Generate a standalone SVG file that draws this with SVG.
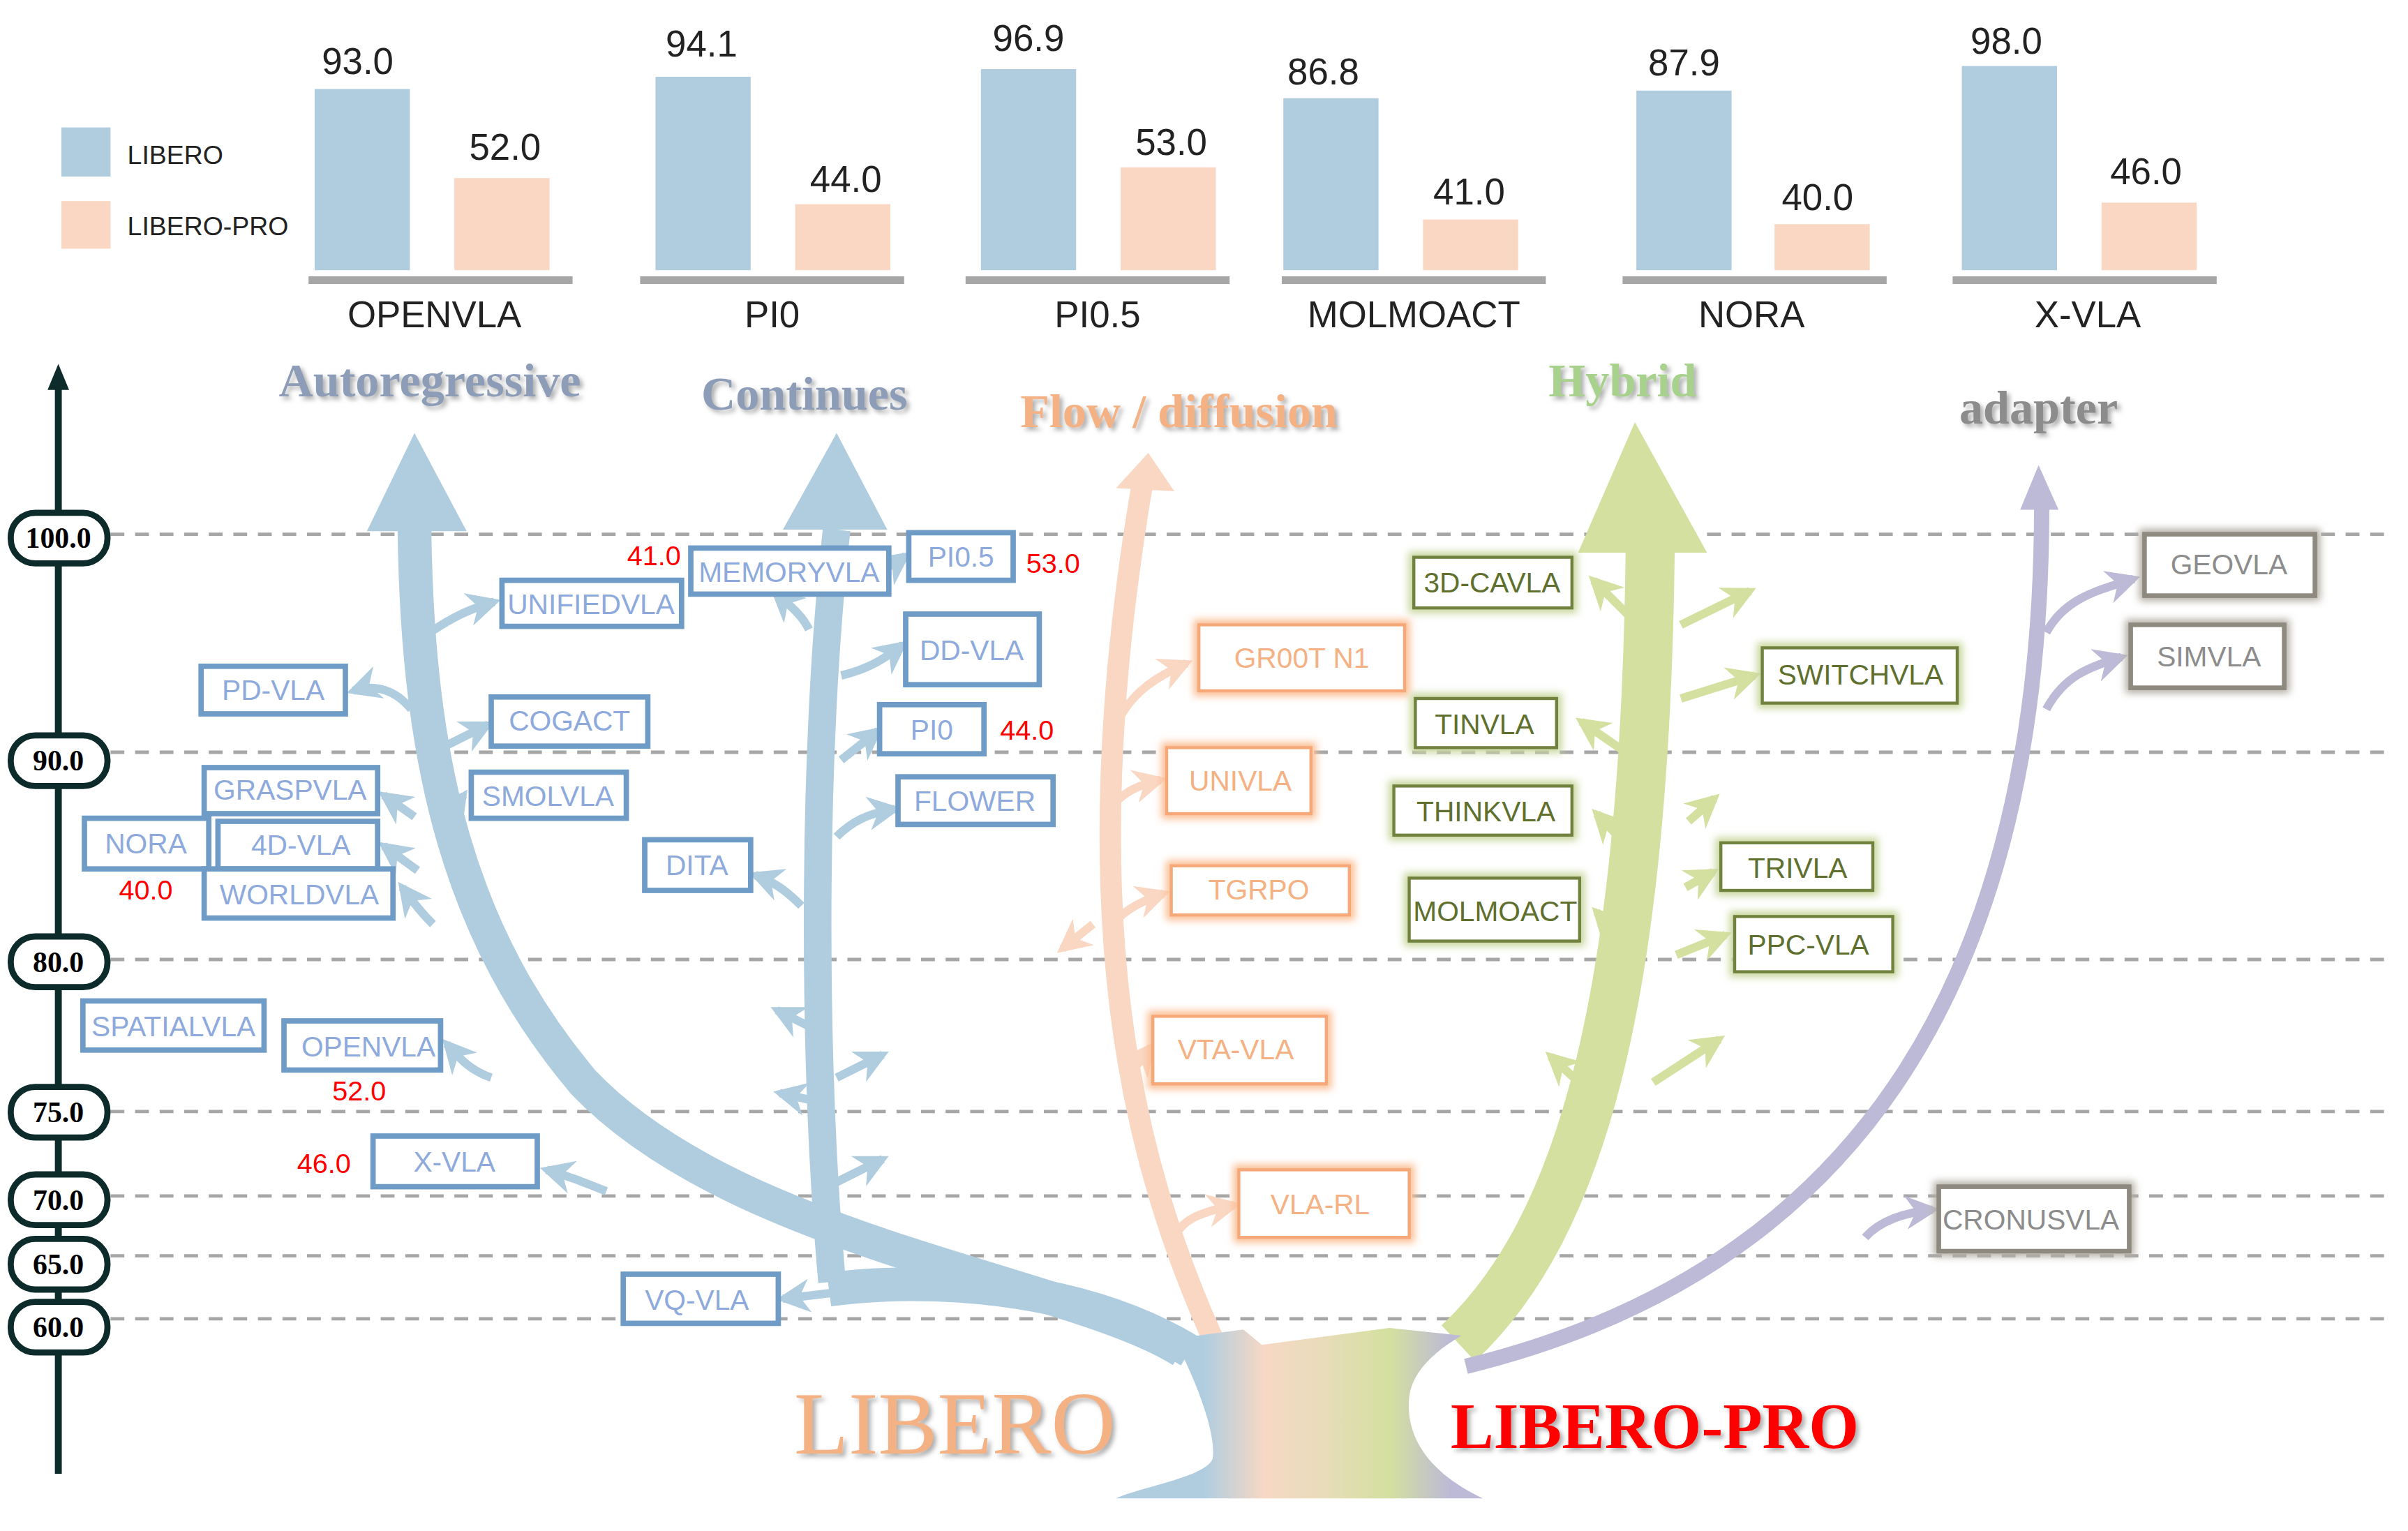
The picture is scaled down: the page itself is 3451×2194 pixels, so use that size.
<svg xmlns="http://www.w3.org/2000/svg" width="3451" height="2194" viewBox="0 0 3451 2194">
<style>
.num{font-family:"Liberation Sans",Arial,sans-serif;font-size:24px;fill:#222;text-anchor:middle}
.cat{font-family:"Liberation Sans",Arial,sans-serif;font-size:24px;fill:#222;text-anchor:middle}
.leg{font-family:"Liberation Sans",Arial,sans-serif;font-size:17px;fill:#222}
.title{font-family:"Liberation Serif","Times New Roman",serif;font-size:31px;font-weight:bold;text-anchor:middle}
.pill{fill:#fff;stroke:#0d2b2b;stroke-width:4}
.pt{font-family:"Liberation Serif","Times New Roman",serif;font-size:19px;font-weight:bold;fill:#000;text-anchor:middle}
.grid{stroke:#a6a6a6;stroke-width:2.2;stroke-dasharray:9 7;fill:none}
.red{font-family:"Liberation Sans",Arial,sans-serif;font-size:18px;fill:#ff0000;text-anchor:middle}
.nt{font-family:"Liberation Sans",Arial,sans-serif;font-size:18.5px;text-anchor:middle}
.bb{fill:#fff;stroke:#6f9cc6;stroke-width:3.5}
.bt{fill:#8eaadc}
.ob{fill:#fff;stroke:#f6a878;stroke-width:2}
.oglow{fill:none;stroke:#fbbf95;stroke-width:7}
.ot{fill:#f4b183}
.gb{fill:#fff;stroke:#71823f;stroke-width:2}
.gglow{fill:none;stroke:#c9d79e;stroke-width:7}
.gt{fill:#5f6f2e}
.ab{fill:#fff;stroke:#8f8a80;stroke-width:3}
.aglow{fill:none;stroke:#b3aea4;stroke-width:7}
.at{fill:#8c8c8c}
.sb{fill:none;stroke:#b0cde0;stroke-width:5.5}
.so{fill:none;stroke:#fad7c3;stroke-width:5.5}
.sg{fill:none;stroke:#d3e09f;stroke-width:5.5}
.sp{fill:none;stroke:#bcbad6;stroke-width:5.5}
</style>
<defs>
<filter id="blur" x="-20%" y="-40%" width="140%" height="180%"><feGaussianBlur stdDeviation="2.5"/></filter>
<filter id="shadow" x="-10%" y="-20%" width="120%" height="150%"><feDropShadow dx="2" dy="2" stdDeviation="1.5" flood-color="#777" flood-opacity="0.6"/></filter>
<marker id="mb" viewBox="0 0 10 10" refX="8" refY="5" markerWidth="4" markerHeight="4" orient="auto"><path d="M0,0 L10,5 L0,10 L3,5 Z" fill="#b0cde0"/></marker>
<marker id="mo" viewBox="0 0 10 10" refX="8" refY="5" markerWidth="4" markerHeight="4" orient="auto"><path d="M0,0 L10,5 L0,10 L3,5 Z" fill="#fad7c3"/></marker>
<marker id="mg" viewBox="0 0 10 10" refX="8" refY="5" markerWidth="4" markerHeight="4" orient="auto"><path d="M0,0 L10,5 L0,10 L3,5 Z" fill="#d3e09f"/></marker>
<marker id="mp" viewBox="0 0 10 10" refX="8" refY="5" markerWidth="4" markerHeight="4" orient="auto"><path d="M0,0 L10,5 L0,10 L3,5 Z" fill="#bcbad6"/></marker>
<linearGradient id="trunk" x1="765" y1="0" x2="960" y2="0" gradientUnits="userSpaceOnUse">
<stop offset="0.1" stop-color="#b0cde0"/><stop offset="0.3" stop-color="#f6d8c4"/><stop offset="0.5" stop-color="#e8dcb9"/><stop offset="0.72" stop-color="#d3e09f"/><stop offset="0.92" stop-color="#bcbad6"/>
</linearGradient>
</defs>
<rect width="3451" height="2194" fill="#fff"/>
<g transform="scale(2.2)">
<g id="chart">
<rect x="40" y="83" width="32" height="32" fill="#b0cde0"/><rect x="40" y="131" width="32" height="31" fill="#fad7c3"/>
<text class="leg" x="83" y="107">LIBERO</text><text class="leg" x="83" y="153">LIBERO-PRO</text>
<g fill="#a6a6a6"><rect x="201" y="180" width="172" height="5"/><rect x="417" y="180" width="172" height="5"/><rect x="629" y="180" width="172" height="5"/><rect x="835" y="180" width="172" height="5"/><rect x="1057" y="180" width="172" height="5"/><rect x="1272" y="180" width="172" height="5"/></g>
<g fill="#b0cde0"><rect x="205" y="58" width="62" height="118"/><rect x="427" y="50" width="62" height="126"/><rect x="639" y="45" width="62" height="131"/><rect x="836" y="64" width="62" height="112"/><rect x="1066" y="59" width="62" height="117"/><rect x="1278" y="43" width="62" height="133"/></g>
<g fill="#fad7c3"><rect x="296" y="116" width="62" height="60"/><rect x="518" y="133" width="62" height="43"/><rect x="730" y="109" width="62" height="67"/><rect x="927" y="143" width="62" height="33"/><rect x="1156" y="146" width="62" height="30"/><rect x="1369" y="132" width="62" height="44"/></g>
<text class="num" x="233" y="48">93.0</text><text class="num" x="329" y="104">52.0</text>
<text class="num" x="457" y="37">94.1</text><text class="num" x="551" y="125">44.0</text>
<text class="num" x="670" y="33">96.9</text><text class="num" x="763" y="101">53.0</text>
<text class="num" x="862" y="55">86.8</text><text class="num" x="957" y="133">41.0</text>
<text class="num" x="1097" y="49">87.9</text><text class="num" x="1184" y="137">40.0</text>
<text class="num" x="1307" y="35">98.0</text><text class="num" x="1398" y="120">46.0</text>
<text class="cat" x="283" y="213">OPENVLA</text><text class="cat" x="503" y="213">PI0</text><text class="cat" x="715" y="213">PI0.5</text><text class="cat" x="921" y="213">MOLMOACT</text><text class="cat" x="1141" y="213">NORA</text><text class="cat" x="1360" y="213">X-VLA</text>
</g>
<g id="grid">
<line class="grid" x1="72" y1="348" x2="1560" y2="348"/><line class="grid" x1="72" y1="490" x2="1560" y2="490"/><line class="grid" x1="72" y1="625" x2="1560" y2="625"/><line class="grid" x1="72" y1="724" x2="1560" y2="724"/><line class="grid" x1="72" y1="779" x2="1560" y2="779"/><line class="grid" x1="72" y1="818" x2="1560" y2="818"/><line class="grid" x1="72" y1="859" x2="1560" y2="859"/>
</g>
<g id="axis">
<line x1="38" y1="250" x2="38" y2="960" stroke="#0d2b2b" stroke-width="4.5"/>
<path d="M38,237 L31,254 L45,254 Z" fill="#0d2b2b"/>
<rect class="pill" x="7" y="334" width="63" height="33" rx="16"/><text class="pt" x="38" y="357">100.0</text>
<rect class="pill" x="7" y="479" width="63" height="33" rx="16"/><text class="pt" x="38" y="502">90.0</text>
<rect class="pill" x="7" y="610" width="63" height="33" rx="16"/><text class="pt" x="38" y="633">80.0</text>
<rect class="pill" x="7" y="708" width="63" height="33" rx="16"/><text class="pt" x="38" y="731">75.0</text>
<rect class="pill" x="7" y="765" width="63" height="33" rx="16"/><text class="pt" x="38" y="788">70.0</text>
<rect class="pill" x="7" y="807" width="63" height="33" rx="16"/><text class="pt" x="38" y="830">65.0</text>
<rect class="pill" x="7" y="848" width="63" height="33" rx="16"/><text class="pt" x="38" y="871">60.0</text>
</g>
<g id="titles" filter="url(#shadow)">
<text class="title" x="280" y="258" fill="#8d9db8">Autoregressive</text>
<text class="title" x="524" y="267" fill="#8d9db8">Continues</text>
<text class="title" x="768" y="278" fill="#f4b183">Flow / diffusion</text>
<text class="title" x="1057" y="258" fill="#a9d18e">Hybrid</text>
<text class="title" x="1328" y="276" fill="#8c8c8c">adapter</text>
</g>
<g id="connectors">
<path d="M770,880 C700,835 480,810 380,705 C300,610 272,500 270,345" fill="none" stroke="#b0cde0" stroke-width="22"/>
<path d="M239,346 L270,282 L304,346 Z" fill="#b0cde0"/>
<path d="M542,835 C530,700 528,500 545,345" fill="none" stroke="#b0cde0" stroke-width="18"/>
<path d="M510,345 L545,282 L578,345 Z" fill="#b0cde0"/>
<path d="M775,880 C700,835 600,832 540,840" fill="none" stroke="#b0cde0" stroke-width="22"/>
<path d="M790,872 C740,760 695,600 745,310" fill="none" stroke="#fad7c3" stroke-width="14"/>
<path d="M727,318 L748,295 L765,320 Z" fill="#fad7c3"/>
<path d="M950,875 C1030,800 1072,650 1075,355" fill="none" stroke="#d3e09f" stroke-width="32"/>
<path d="M1028,360 L1065,275 L1112,360 Z" fill="#d3e09f"/>
<path d="M955,890 C1200,830 1330,650 1330,330" fill="none" stroke="#bcbad6" stroke-width="10"/>
<path d="M1316,332 L1328,303 L1341,332 Z" fill="#bcbad6"/>
<g marker-end="url(#mb)">
<path class="sb" d="M280,412 C295,402 305,397 322,392"/>
<path class="sb" d="M268,462 C258,450 245,445 230,450"/>
<path class="sb" d="M282,490 L318,472"/>
<path class="sb" d="M270,532 L250,518"/>
<path class="sb" d="M287,540 L302,518"/>
<path class="sb" d="M272,567 L250,551"/>
<path class="sb" d="M282,602 C272,592 268,586 262,578"/>
<path class="sb" d="M320,702 C306,697 300,690 291,680"/>
<path class="sb" d="M395,776 C380,770 370,766 356,762"/>
<path class="sb" d="M527,410 C522,400 515,395 505,386"/>
<path class="sb" d="M545,382 C560,379 575,373 590,362"/>
<path class="sb" d="M548,440 C565,436 575,430 588,420"/>
<path class="sb" d="M548,495 L572,476"/>
<path class="sb" d="M545,545 C555,535 565,530 583,527"/>
<path class="sb" d="M522,590 C512,580 505,575 492,570"/>
<path class="sb" d="M526,668 L506,658"/>
<path class="sb" d="M545,702 L575,687"/>
<path class="sb" d="M530,717 L508,712"/>
<path class="sb" d="M545,770 L575,755"/>
<path class="sb" d="M560,840 L510,846"/>
</g>
<g marker-end="url(#mo)">
<path class="so" d="M728,470 C738,450 755,440 773,432"/>
<path class="so" d="M724,525 C734,515 740,512 756,508"/>
<path class="so" d="M722,605 C730,595 740,588 758,582"/>
<path class="so" d="M712,602 L692,618"/>
<path class="so" d="M738,697 L750,682"/>
<path class="so" d="M765,806 C770,795 780,790 804,785"/>
</g>
<g marker-end="url(#mg)">
<path class="sg" d="M1060,400 L1038,378"/>
<path class="sg" d="M1095,407 L1140,385"/>
<path class="sg" d="M1095,455 L1143,440"/>
<path class="sg" d="M1062,492 L1030,470"/>
<path class="sg" d="M1100,535 L1117,520"/>
<path class="sg" d="M1062,553 L1040,530"/>
<path class="sg" d="M1098,578 L1116,568"/>
<path class="sg" d="M1057,612 L1040,594"/>
<path class="sg" d="M1092,622 L1124,609"/>
<path class="sg" d="M1045,720 L1010,688"/>
<path class="sg" d="M1077,705 L1120,677"/>
</g>
<g marker-end="url(#mp)">
<path class="sp" d="M1333,412 C1345,390 1365,385 1390,377"/>
<path class="sp" d="M1333,462 C1345,440 1360,435 1382,428"/>
<path class="sp" d="M1215,806 C1225,795 1240,790 1259,788"/>
</g>
</g>
<g id="trunk">
<path d="M765,872 C782,905 792,935 790,950 C786,962 745,968 727,976 L966,976 C936,962 915,940 918,910 C920,893 935,880 952,870 L905,865 L822,876 L810,866 Z" fill="url(#trunk)"/>
</g>
<g id="labels" filter="url(#shadow)">
<text x="622" y="947" font-family="'Liberation Serif','Times New Roman',serif" font-size="58" fill="#f4b183" text-anchor="middle">LIBERO</text>
<text x="1078" y="943" font-family="'Liberation Serif','Times New Roman',serif" font-size="42" font-weight="bold" fill="#ff0000" text-anchor="middle">LIBERO-PRO</text>
</g>
<g id="red-values">
<text class="red" x="426" y="368">41.0</text><text class="red" x="686" y="373">53.0</text><text class="red" x="669" y="482">44.0</text><text class="red" x="95" y="586">40.0</text><text class="red" x="234" y="717">52.0</text><text class="red" x="211" y="764">46.0</text>
</g>
<g id="n-unifiedvla"><rect class="bb" x="327" y="378" width="117" height="30"/><text class="nt bt" x="385" y="400">UNIFIEDVLA</text></g>
<g id="n-memoryvla"><rect class="bb" x="450" y="357" width="129" height="30"/><text class="nt bt" x="514" y="379">MEMORYVLA</text></g>
<g id="n-pi05"><rect class="bb" x="592" y="347" width="68" height="31"/><text class="nt bt" x="626" y="369">PI0.5</text></g>
<g id="n-ddvla"><rect class="bb" x="590" y="400" width="87" height="46"/><text class="nt bt" x="633" y="430">DD-VLA</text></g>
<g id="n-pdvla"><rect class="bb" x="131" y="434" width="94" height="31"/><text class="nt bt" x="178" y="456">PD-VLA</text></g>
<g id="n-cogact"><rect class="bb" x="320" y="454" width="102" height="32"/><text class="nt bt" x="371" y="476">COGACT</text></g>
<g id="n-pi0"><rect class="bb" x="573" y="459" width="68" height="32"/><text class="nt bt" x="607" y="482">PI0</text></g>
<g id="n-graspvla"><rect class="bb" x="133" y="500" width="113" height="30"/><text class="nt bt" x="189" y="521">GRASPVLA</text></g>
<g id="n-smolvla"><rect class="bb" x="307" y="503" width="101" height="30"/><text class="nt bt" x="357" y="525">SMOLVLA</text></g>
<g id="n-flower"><rect class="bb" x="585" y="506" width="101" height="31"/><text class="nt bt" x="635" y="528">FLOWER</text></g>
<g id="n-nora"><rect class="bb" x="55" y="533" width="81" height="33"/><text class="nt bt" x="95" y="556">NORA</text></g>
<g id="n-4dvla"><rect class="bb" x="142" y="535" width="104" height="31"/><text class="nt bt" x="196" y="557">4D-VLA</text></g>
<g id="n-worldvla"><rect class="bb" x="133" y="566" width="123" height="32"/><text class="nt bt" x="195" y="589">WORLDVLA</text></g>
<g id="n-dita"><rect class="bb" x="420" y="547" width="69" height="33"/><text class="nt bt" x="454" y="570">DITA</text></g>
<g id="n-spatialvla"><rect class="bb" x="54" y="652" width="118" height="32"/><text class="nt bt" x="113" y="675">SPATIALVLA</text></g>
<g id="n-openvla"><rect class="bb" x="185" y="665" width="102" height="32"/><text class="nt bt" x="240" y="688">OPENVLA</text></g>
<g id="n-xvla"><rect class="bb" x="243" y="740" width="107" height="33"/><text class="nt bt" x="296" y="763">X-VLA</text></g>
<g id="n-vqvla"><rect class="bb" x="406" y="830" width="101" height="32"/><text class="nt bt" x="454" y="853">VQ-VLA</text></g>
<g id="n-groot"><rect class="oglow" filter="url(#blur)" x="781" y="407" width="134" height="43"/><rect class="ob" x="781" y="407" width="134" height="43"/><text class="nt ot" x="848" y="435">GR00T N1</text></g>
<g id="n-univla"><rect class="oglow" filter="url(#blur)" x="760" y="487" width="94" height="43"/><rect class="ob" x="760" y="487" width="94" height="43"/><text class="nt ot" x="808" y="515">UNIVLA</text></g>
<g id="n-tgrpo"><rect class="oglow" filter="url(#blur)" x="763" y="564" width="116" height="32"/><rect class="ob" x="763" y="564" width="116" height="32"/><text class="nt ot" x="820" y="586">TGRPO</text></g>
<g id="n-vtavla"><rect class="oglow" filter="url(#blur)" x="751" y="662" width="113" height="44"/><rect class="ob" x="751" y="662" width="113" height="44"/><text class="nt ot" x="805" y="690">VTA-VLA</text></g>
<g id="n-vlarl"><rect class="oglow" filter="url(#blur)" x="807" y="762" width="111" height="44"/><rect class="ob" x="807" y="762" width="111" height="44"/><text class="nt ot" x="860" y="791">VLA-RL</text></g>
<g id="n-3dcavla"><rect class="gglow" filter="url(#blur)" x="921" y="363" width="103" height="33"/><rect class="gb" x="921" y="363" width="103" height="33"/><text class="nt gt" x="972" y="386">3D-CAVLA</text></g>
<g id="n-switchvla"><rect class="gglow" filter="url(#blur)" x="1148" y="422" width="127" height="36"/><rect class="gb" x="1148" y="422" width="127" height="36"/><text class="nt gt" x="1212" y="446">SWITCHVLA</text></g>
<g id="n-tinvla"><rect class="gglow" filter="url(#blur)" x="922" y="455" width="92" height="32"/><rect class="gb" x="922" y="455" width="92" height="32"/><text class="nt gt" x="967" y="478">TINVLA</text></g>
<g id="n-thinkvla"><rect class="gglow" filter="url(#blur)" x="908" y="512" width="116" height="32"/><rect class="gb" x="908" y="512" width="116" height="32"/><text class="nt gt" x="968" y="535">THINKVLA</text></g>
<g id="n-trivla"><rect class="gglow" filter="url(#blur)" x="1121" y="549" width="99" height="31"/><rect class="gb" x="1121" y="549" width="99" height="31"/><text class="nt gt" x="1171" y="572">TRIVLA</text></g>
<g id="n-molmoact"><rect class="gglow" filter="url(#blur)" x="918" y="572" width="111" height="41"/><rect class="gb" x="918" y="572" width="111" height="41"/><text class="nt gt" x="974" y="600">MOLMOACT</text></g>
<g id="n-ppcvla"><rect class="gglow" filter="url(#blur)" x="1130" y="597" width="103" height="36"/><rect class="gb" x="1130" y="597" width="103" height="36"/><text class="nt gt" x="1178" y="622">PPC-VLA</text></g>
<g id="n-geovla"><rect class="aglow" filter="url(#blur)" x="1397" y="348" width="111" height="40"/><rect class="ab" x="1397" y="348" width="111" height="40"/><text class="nt at" x="1452" y="374">GEOVLA</text></g>
<g id="n-simvla"><rect class="aglow" filter="url(#blur)" x="1388" y="407" width="100" height="41"/><rect class="ab" x="1388" y="407" width="100" height="41"/><text class="nt at" x="1439" y="434">SIMVLA</text></g>
<g id="n-cronusvla"><rect class="aglow" filter="url(#blur)" x="1263" y="773" width="124" height="42"/><rect class="ab" x="1263" y="773" width="124" height="42"/><text class="nt at" x="1323" y="801">CRONUSVLA</text></g>
</g>
</svg>
